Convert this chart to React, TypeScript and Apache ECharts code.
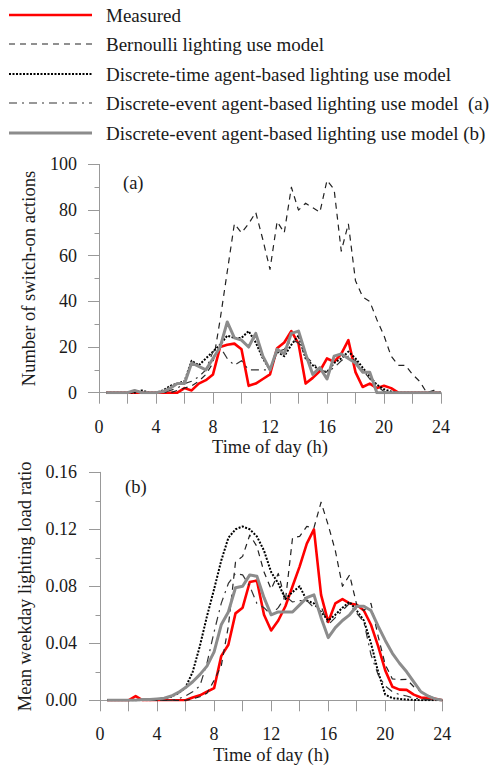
import React, { useEffect, useRef } from "react";
import * as echarts from "echarts";

const HOURS = [0.5, 1, 1.5, 2, 2.5, 3, 3.5, 4, 4.5, 5, 5.5, 6, 6.5, 7, 7.5, 8, 8.5, 9, 9.5, 10, 10.5, 11, 11.5, 12, 12.5, 13, 13.5, 14, 14.5, 15, 15.5, 16, 16.5, 17, 17.5, 18, 18.5, 19, 19.5, 20, 20.5, 21, 21.5, 22, 22.5, 23, 23.5, 24];

const X_TICKS = [0, 4, 8, 12, 16, 20, 24];

const SERIES_NAMES = [
  "Measured",
  "Bernoulli lighting use model",
  "Discrete-time agent-based lighting use model",
  "Discrete-event agent-based lighting use model  (a)",
  "Discrete-event agent-based lighting use model (b)",
];

// (a) Number of switch-on actions
const measuredA = [0, 0, 0, 0, 0, 0, 0, 0, 0, 0, 0, 2, 1, 4, 5.5, 8, 20, 21, 21.5, 19, 3, 4, 6, 8, 19.5, 22, 27, 21.5, 4, 6.5, 9.5, 15, 13.5, 17, 23, 9, 2.5, 4, 2, 3, 2, 0, 0, 0, 0, 0, 0, 0];
const bernoulliA = [0, 0, 0, 0, 1, 0, 0, 0, 0, 0, 1, 2, 3, 5, 8, 13, 32, 53, 74, 70, 74, 79, 67, 54, 75, 70, 90, 80, 83, 81, 79, 93, 89, 62, 74, 49, 42, 40, 32, 25, 16, 12, 12, 8, 5, 0, 1, 0];
const discreteTimeA = [0, 0, 0, 0, 0, 1, 0, 0, 1, 3, 4, 5, 14, 12, 15, 18, 21, 25, 24, 24, 27, 22, 15, 10, 18, 16, 21, 25, 15, 12, 10, 9, 13, 15, 18, 15, 11, 7, 3.5, 1.5, 0.5, 0, 0, 0, 0, 0, 0, 0];
const discreteEventAA = [0, 0, 0, 0, 0, 0, 0, 0, 0, 1, 2, 4, 5, 7, 10, 18, 20, 15, 12, 14, 10, 10, 10, 10, 18, 19, 23, 22, 16, 13, 10, 9, 11, 14, 16, 14, 10, 6, 3, 0.5, 0, 0, 0, 0, 0, 0, 0, 0];
const discreteEventBA = [0, 0, 0, 0, 1, 0, 0, 0, 0.5, 2, 4, 4, 13, 11.5, 10, 15, 20, 31, 24, 23, 20, 26, 16, 10, 19, 17, 26, 27, 17, 8, 11, 6, 16, 17, 15, 13, 9, 9, 0, 0, 0, 0, 0, 0, 0, 0, 0, 0];

// (b) Mean weekday lighting load ratio
const measuredB = [0, 0, 0, 0, 0.003, 0, 0, 0, 0, 0, 0, 0, 0.002, 0.0035, 0.006, 0.0085, 0.031, 0.039, 0.061, 0.065, 0.083, 0.084, 0.06, 0.049, 0.056, 0.066, 0.08, 0.094, 0.11, 0.12, 0.074, 0.055, 0.068, 0.071, 0.068, 0.067, 0.063, 0.053, 0.038, 0.021, 0.0095, 0.0075, 0.0073, 0.004, 0.002, 0.0015, 0.001, 0];
const bernoulliB = [0, 0, 0, 0, 0, 0, 0, 0, 0, 0, 0, 0, 0.001, 0.0025, 0.005, 0.014, 0.024, 0.052, 0.097, 0.101, 0.116, 0.108, 0.09, 0.078, 0.089, 0.07, 0.114, 0.115, 0.122, 0.121, 0.139, 0.123, 0.105, 0.08, 0.088, 0.067, 0.063, 0.068, 0.045, 0.025, 0.015, 0.0145, 0.0147, 0.0095, 0.006, 0.0035, 0.001, 0];
const discreteTimeB = [0, 0, 0, 0, 0, 0, 0, 0.0005, 0.0015, 0.0025, 0.005, 0.009, 0.02, 0.038, 0.059, 0.078, 0.098, 0.114, 0.12, 0.122, 0.12, 0.115, 0.105, 0.09, 0.082, 0.071, 0.076, 0.08, 0.07, 0.068, 0.062, 0.056, 0.06, 0.065, 0.069, 0.063, 0.056, 0.04, 0.02, 0.004, 0.0015, 0.001, 0.0005, 0.0003, 0, 0, 0, 0];
const discreteEventAB = [0, 0, 0, 0, 0, 0, 0, 0, 0, 0, 0.001, 0.003, 0.006, 0.01, 0.026, 0.048, 0.068, 0.082, 0.089, 0.088, 0.08, 0.068, 0.065, 0.06, 0.065, 0.073, 0.069, 0.07, 0.07, 0.065, 0.066, 0.053, 0.058, 0.063, 0.068, 0.061, 0.055, 0.032, 0.018, 0.01, 0.006, 0.004, 0.003, 0.0015, 0.001, 0.0005, 0, 0];
const discreteEventBB = [0, 0, 0, 0, 0, 0.0005, 0.0005, 0.001, 0.0015, 0.003, 0.0055, 0.009, 0.013, 0.018, 0.024, 0.034, 0.053, 0.062, 0.079, 0.08, 0.088, 0.087, 0.072, 0.06, 0.062, 0.062, 0.062, 0.067, 0.072, 0.074, 0.058, 0.044, 0.051, 0.056, 0.06, 0.066, 0.066, 0.063, 0.052, 0.042, 0.033, 0.026, 0.02, 0.013, 0.006, 0.003, 0.001, 0];

const FONT = "'Liberation Serif', 'Times New Roman', serif";
const TEXT_COLOR = "#1a1a1a";
const AXIS_COLOR = "#999999";

const STYLES = [
  { color: "#ff0000", width: 2.6, type: "solid" as any },
  { color: "#222222", width: 1.2, type: [6, 5] as any },
  { color: "#000000", width: 2, type: [2, 1.5] as any },
  { color: "#333333", width: 1.2, type: [8, 5, 2, 5] as any },
  { color: "#8c8c8c", width: 3, type: "solid" as any },
];

const pairs = (ys: number[]) => HOURS.map((h, i) => [h, ys[i]]);

export default function App() {
  const ref = useRef<HTMLDivElement>(null);

  useEffect(() => {
    if (!ref.current) return;
    const chart = echarts.init(ref.current, undefined, { renderer: "svg" });

    const xAxisBase = (gridIndex: number) => ({
      type: "value",
      gridIndex,
      min: 0,
      max: 24,
      interval: 4,
      axisLine: { show: true, onZero: false, lineStyle: { color: AXIS_COLOR, width: 1 } },
      axisTick: { show: true, length: 11, lineStyle: { color: AXIS_COLOR } },
      minorTick: { show: true, splitNumber: 2, length: 11, lineStyle: { color: AXIS_COLOR } },
      splitLine: { show: false },
      axisLabel: {
        fontFamily: FONT,
        fontSize: 18,
        color: TEXT_COLOR,
        margin: 25,
        formatter: (v: number) => (X_TICKS.includes(v) ? String(v) : ""),
      },
      name: "Time of day (h)",
      nameLocation: "middle",
      nameGap: 45,
      nameTextStyle: { fontFamily: FONT, fontSize: 18.5, color: TEXT_COLOR },
    });

    const yAxisBase = (gridIndex: number, max: number, interval: number, name: string, nameGap: number, fmt: (v: number) => string, margin: number) => ({
      type: "value",
      gridIndex,
      min: 0,
      max,
      interval,
      axisLine: { show: true, lineStyle: { color: AXIS_COLOR, width: 1 } },
      axisTick: { show: true, length: 11, lineStyle: { color: AXIS_COLOR } },
      minorTick: { show: true, splitNumber: 2, length: 4.5, lineStyle: { color: AXIS_COLOR } },
      splitLine: { show: false },
      axisLabel: { fontFamily: FONT, fontSize: 18, color: TEXT_COLOR, margin, formatter: fmt },
      name,
      nameLocation: "middle",
      nameGap,
      nameTextStyle: { fontFamily: FONT, fontSize: 18.5, color: TEXT_COLOR },
    });

    const topData = [measuredA, bernoulliA, discreteTimeA, discreteEventAA, discreteEventBA];
    const botData = [measuredB, bernoulliB, discreteTimeB, discreteEventAB, discreteEventBB];

    const mkSeries = (data: number[][], gridIndex: number) =>
      data.map((ys, i) => ({
        type: "line",
        name: SERIES_NAMES[i],
        xAxisIndex: gridIndex,
        yAxisIndex: gridIndex,
        data: pairs(ys),
        symbol: "none",
        showSymbol: false,
        silent: true,
        lineStyle: { color: STYLES[i].color, width: STYLES[i].width, type: STYLES[i].type, cap: "butt", join: "round" },
        itemStyle: { color: STYLES[i].color },
        z: 2 + i,
      }));

    const legendRowsY = [15, 44, 74, 103, 133];
    const legendGraphics: any[] = [];
    SERIES_NAMES.forEach((name, i) => {
      legendGraphics.push({
        type: "line",
        shape: { x1: 9, y1: legendRowsY[i], x2: 92, y2: legendRowsY[i] },
        style: { stroke: STYLES[i].color, lineWidth: STYLES[i].width, lineDash: Array.isArray(STYLES[i].type) ? STYLES[i].type : null },
        silent: true,
      });
      legendGraphics.push({
        type: "text",
        x: 106,
        y: legendRowsY[i],
        style: { text: name, fontFamily: FONT, fontSize: 19, fill: TEXT_COLOR, align: "left", verticalAlign: "middle" },
        silent: true,
      });
    });
    legendGraphics.push({
      type: "text",
      x: 123,
      y: 183,
      style: { text: "(a)", fontFamily: FONT, fontSize: 18.5, fill: TEXT_COLOR, align: "left", verticalAlign: "middle" },
    });
    legendGraphics.push({
      type: "text",
      x: 125,
      y: 487,
      style: { text: "(b)", fontFamily: FONT, fontSize: 18.5, fill: TEXT_COLOR, align: "left", verticalAlign: "middle" },
    });

    chart.setOption({
      animation: false,
      backgroundColor: "#ffffff",
      grid: [
        { left: 99, top: 164.4, width: 342, height: 228.3 },
        { left: 100, top: 472.3, width: 342.3, height: 228 },
      ],
      xAxis: [xAxisBase(0), xAxisBase(1)],
      yAxis: [
        yAxisBase(0, 100, 20, "Number of switch-on actions", 61, (v: number) => String(v), 22),
        yAxisBase(1, 0.16, 0.04, "Mean weekday lighting load ratio", 66, (v: number) => v.toFixed(2), 23),
      ],
      series: [...mkSeries(topData, 0), ...mkSeries(botData, 1)],
      graphic: legendGraphics,
    });

    return () => chart.dispose();
  }, []);

  return <div ref={ref} style={{ position: "absolute", left: 0, top: 0, width: 500, height: 768 }} />;
}
